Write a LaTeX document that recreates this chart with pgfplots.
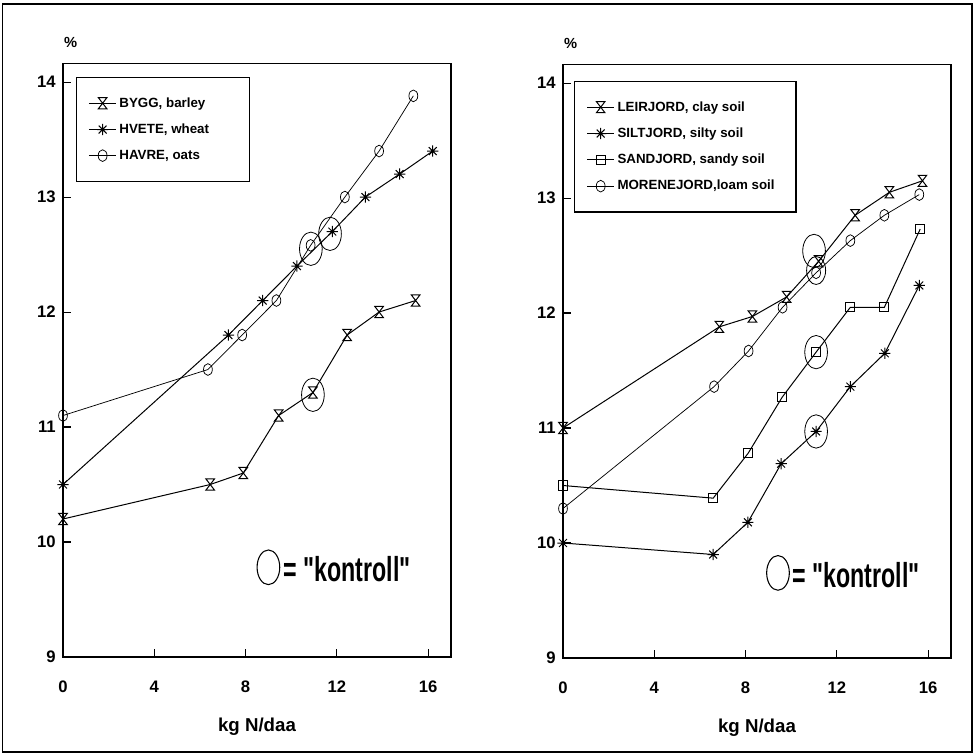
\documentclass[border=0pt]{standalone}
\usepackage{fontspec}
\setmainfont{Liberation Sans}
\usepackage{pgfplots}
\pgfplotsset{compat=1.18}
\usetikzlibrary{shapes.geometric}

\pgfdeclareplotmark{hourglass}{%
  \pgfpathmoveto{\pgfqpoint{-\pgfplotmarksize}{1.3\pgfplotmarksize}}%
  \pgfpathlineto{\pgfqpoint{\pgfplotmarksize}{1.3\pgfplotmarksize}}%
  \pgfpathlineto{\pgfqpoint{-\pgfplotmarksize}{-1.3\pgfplotmarksize}}%
  \pgfpathlineto{\pgfqpoint{\pgfplotmarksize}{-1.3\pgfplotmarksize}}%
  \pgfpathclose
  \pgfusepathqstroke}
\pgfdeclareplotmark{star8}{%
  \pgfpathmoveto{\pgfqpoint{-\pgfplotmarksize}{0pt}}\pgfpathlineto{\pgfqpoint{\pgfplotmarksize}{0pt}}%
  \pgfpathmoveto{\pgfqpoint{0pt}{-\pgfplotmarksize}}\pgfpathlineto{\pgfqpoint{0pt}{\pgfplotmarksize}}%
  \pgfpathmoveto{\pgfqpoint{-0.7\pgfplotmarksize}{-0.7\pgfplotmarksize}}\pgfpathlineto{\pgfqpoint{0.7\pgfplotmarksize}{0.7\pgfplotmarksize}}%
  \pgfpathmoveto{\pgfqpoint{-0.7\pgfplotmarksize}{0.7\pgfplotmarksize}}\pgfpathlineto{\pgfqpoint{0.7\pgfplotmarksize}{-0.7\pgfplotmarksize}}%
  \pgfusepathqstroke}
\pgfdeclareplotmark{vell}{%
  \pgfpathellipse{\pgfpointorigin}{\pgfqpoint{0.75\pgfplotmarksize}{0pt}}{\pgfqpoint{0pt}{\pgfplotmarksize}}%
  \pgfusepathqstroke}
\pgfdeclareplotmark{kontroll}{%
  \pgfpathellipse{\pgfpointorigin}{\pgfqpoint{0.68\pgfplotmarksize}{0pt}}{\pgfqpoint{0pt}{\pgfplotmarksize}}%
  \pgfusepathqstroke}

\pgfplotsset{
  panel/.style={
    scale only axis,
    width=291pt, height=445pt,
    xmin=0, xmax=17, ymin=9, ymax=14.16,
    xtick={0,4,8,12,16}, ytick={9,10,11,12,13,14},
    xtick pos=bottom, ytick pos=left,
    tick align=inside, major tick length=6pt,
    axis line style={line width=1pt},
    tick style={line width=0.8pt, black},
    /pgf/number format/assume math mode=true,
    ticklabel style={font=\bfseries\fontsize{12.5}{12.5}\selectfont},
    xticklabel style={yshift=-14pt, text height=9pt, text depth=0pt},
    yticklabel style={xshift=-2pt},
    xlabel={kg N/daa},
    xlabel style={font=\bfseries\fontsize{14}{14}\selectfont, at={(axis description cs:0.5,0)}, anchor=center, yshift=-52pt},
    clip=false,
    every axis plot/.append style={line width=0.75pt, black},
    legend cell align=left,
    legend image code/.code={\draw[mark repeat=2,mark phase=2] plot coordinates {(0cm,0cm) (0.36cm,0cm) (0.72cm,0cm)};},
    legend style={draw=black, line width=1pt, font=\bfseries\fontsize{10}{11}\selectfont,
      row sep=7pt, inner xsep=9pt, inner ysep=13pt, anchor=north west},
  },
  ko/.style={only marks, mark=kontroll, mark size=12.5pt, line width=0.6pt, forget plot},
}

\newcommand{\kontroll}{\scalebox{0.67}[1]{\fontsize{26}{26}\selectfont\bfseries = \textquotedbl kontroll\textquotedbl}}

\begin{document}
\begin{tikzpicture}
\useasboundingbox (0,0) rectangle (731.25pt,567pt);
\draw[line width=1pt] (2pt,3pt) rectangle (729pt,564pt);

% ---------------- left panel ----------------
\begin{axis}[panel, at={(47.25pt,74.25pt)}, anchor=south west,
  legend style={at={(0.033,0.978)}}]
\addplot[mark=hourglass, mark size=3.2pt] coordinates {
 (0,10.2) (6.45,10.5) (7.9,10.6) (9.45,11.1) (10.95,11.3) (12.45,11.8) (13.85,12.0) (15.45,12.1)};
\addlegendentry{BYGG, barley\rule{22pt}{0pt}}
\addplot[mark=star8, mark size=4.2pt] coordinates {
 (0,10.5) (7.25,11.8) (8.75,12.1) (10.25,12.4) (11.8,12.7) (13.25,13.0) (14.75,13.2) (16.2,13.4)};
\addlegendentry{HVETE, wheat}
\addplot[mark=vell, mark size=4.4pt, line width=0.55pt] coordinates {
 (0,11.1) (6.35,11.5) (7.85,11.8) (9.35,12.1) (10.85,12.58) (12.35,13.0) (13.85,13.4) (15.35,13.88)};
\addlegendentry{HAVRE, oats}
\addplot[ko] coordinates {(10.95,11.28) (10.86,12.55) (11.7,12.68)};
\node[draw, ellipse, line width=0.8pt, minimum width=17pt, minimum height=26pt, inner sep=0pt] at (axis cs:9.0,9.78) {};
\node[anchor=west, inner sep=0pt] at (axis cs:9.65,9.76) {\kontroll};
\node[font=\bfseries\fontsize{11}{11}\selectfont] at (rel axis cs:0.02,1.035) {\%};
\end{axis}

% ---------------- right panel ----------------
\begin{axis}[panel, at={(422.25pt,73.5pt)}, anchor=south west,
  legend style={at={(0.028,0.973)}}]
\addplot[mark=hourglass, mark size=3.2pt] coordinates {
 (0,11.0) (6.85,11.88) (8.3,11.97) (9.8,12.14) (11.2,12.45) (12.8,12.85) (14.3,13.05) (15.75,13.15)};
\addlegendentry{LEIRJORD, clay soil}
\addplot[mark=star8, mark size=4.2pt] coordinates {
 (0,10.0) (6.58,9.9) (8.1,10.18) (9.56,10.69) (11.09,10.97) (12.59,11.36) (14.1,11.65) (15.61,12.24)};
\addlegendentry{SILTJORD, silty soil}
\addplot[mark=square, mark size=3.4pt] coordinates {
 (0,10.5) (6.58,10.39) (8.11,10.78) (9.61,11.27) (11.09,11.66) (12.59,12.05) (14.08,12.05) (15.65,12.73)};
\addlegendentry{SANDJORD, sandy soil}
\addplot[mark=vell, mark size=4.4pt, line width=0.55pt] coordinates {
 (0,10.3) (6.62,11.36) (8.13,11.67) (9.62,12.05) (11.09,12.35) (12.59,12.63) (14.08,12.85) (15.61,13.03)};
\addlegendentry{MORENEJORD,loam soil\rule{5pt}{0pt}}
\addplot[ko] coordinates {(11.0,12.54) (11.09,11.66) (11.09,10.97)};
\addplot[ko, mark size=10.5pt] coordinates {(11.09,12.37)};
\node[draw, ellipse, line width=0.8pt, minimum width=17pt, minimum height=26pt, inner sep=0pt] at (axis cs:9.42,9.74) {};
\node[anchor=west, inner sep=0pt] at (axis cs:10.05,9.72) {\kontroll};
\node[font=\bfseries\fontsize{11}{11}\selectfont] at (rel axis cs:0.02,1.035) {\%};
\end{axis}
\end{tikzpicture}
\end{document}
